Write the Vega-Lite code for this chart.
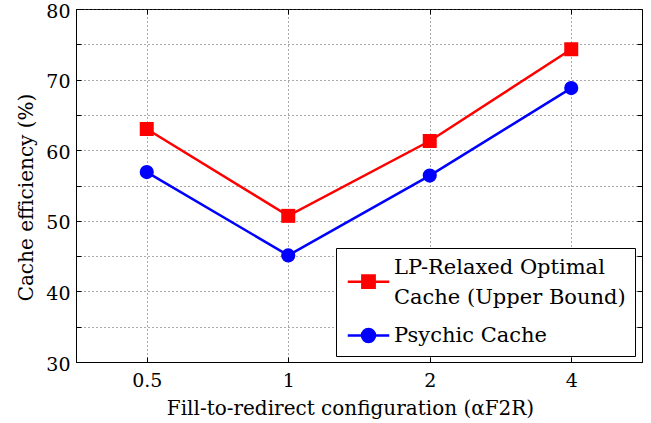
{
  "$schema": "https://vega.github.io/schema/vega-lite/v6.json",
  "width": 566,
  "height": 353,
  "autosize": "none",
  "padding": {"left": 76, "top": 9, "right": 9, "bottom": 61},
  "background": "white",
  "config": {
    "view": {"stroke": "black", "strokeWidth": 1},
    "font": "DejaVu Serif",
    "axis": {
      "domainColor": "black",
      "tickColor": "black",
      "labelColor": "black",
      "titleColor": "black",
      "labelFont": "DejaVu Serif",
      "titleFont": "DejaVu Serif",
      "labelFontSize": 19,
      "titleFontSize": 20,
      "titleFontWeight": "normal",
      "gridColor": "#555555",
      "gridDash": [1, 3],
      "gridOpacity": 1,
      "tickSize": -5,
      "tickWidth": 1
    }
  },
  "data": {
    "values": [
      {"alpha": "0.5", "series": "LP-Relaxed Optimal Cache (Upper Bound)", "eff": 63.0},
      {"alpha": "1", "series": "LP-Relaxed Optimal Cache (Upper Bound)", "eff": 50.7},
      {"alpha": "2", "series": "LP-Relaxed Optimal Cache (Upper Bound)", "eff": 61.3},
      {"alpha": "4", "series": "LP-Relaxed Optimal Cache (Upper Bound)", "eff": 74.3},
      {"alpha": "0.5", "series": "Psychic Cache", "eff": 56.9},
      {"alpha": "1", "series": "Psychic Cache", "eff": 45.1},
      {"alpha": "2", "series": "Psychic Cache", "eff": 56.4},
      {"alpha": "4", "series": "Psychic Cache", "eff": 68.8}
    ]
  },
  "layer": [
    {
      "mark": {"type": "line", "strokeWidth": 2.5},
      "encoding": {
        "x": {
          "field": "alpha", "type": "ordinal", "sort": ["0.5", "1", "2", "4"],
          "scale": {"type": "point", "padding": 0.5},
          "axis": {"orient": "bottom", "grid": true, "labelAngle": 0, "labelPadding": 14, "title": "Fill-to-redirect configuration (αF2R)", "titlePadding": 8, "titleX": 274}
        },
        "y": {
          "field": "eff", "type": "quantitative",
          "scale": {"domain": [30, 80], "nice": false, "zero": false},
          "axis": {"orient": "left", "grid": true, "values": [30, 35, 40, 45, 50, 55, 60, 65, 70, 75, 80], "labelExpr": "datum.value % 10 == 0 ? datum.label : ''", "labelPadding": 11, "labelOffset": 2, "title": "Cache efficiency (%)", "titlePadding": 9, "titleY": 188}
        },
        "color": {
          "field": "series", "type": "nominal",
          "scale": {"range": ["#ff0000", "#0000ff"]},
          "legend": null
        }
      }
    },
    {
      "transform": [{"filter": "datum.series == 'LP-Relaxed Optimal Cache (Upper Bound)'"}],
      "mark": {"type": "point", "filled": true, "opacity": 1, "shape": "square", "size": 196},
      "encoding": {
        "x": {
          "field": "alpha", "type": "ordinal", "sort": ["0.5", "1", "2", "4"],
          "scale": {"type": "point", "padding": 0.5},
          "axis": {"orient": "top", "grid": false, "labels": false, "title": null, "domain": false}
        },
        "y": {
          "field": "eff", "type": "quantitative",
          "scale": {"domain": [30, 80], "nice": false, "zero": false},
          "axis": {"orient": "right", "grid": false, "labels": false, "title": null, "domain": false, "values": [30, 35, 40, 45, 50, 55, 60, 65, 70, 75, 80]}
        },
        "color": {"field": "series", "type": "nominal", "legend": null}
      }
    },
    {
      "transform": [{"filter": "datum.series == 'Psychic Cache'"}],
      "mark": {"type": "point", "filled": true, "opacity": 1, "shape": "circle", "size": 200},
      "encoding": {
        "x": {"field": "alpha", "type": "ordinal", "sort": ["0.5", "1", "2", "4"], "scale": {"type": "point", "padding": 0.5}, "axis": null},
        "y": {"field": "eff", "type": "quantitative", "scale": {"domain": [30, 80], "nice": false, "zero": false}, "axis": null},
        "color": {"field": "series", "type": "nominal", "legend": null}
      }
    },
    {
      "mark": {"type": "point", "filled": true, "size": 180, "strokeWidth": 2.5},
      "encoding": {
        "x": {"field": "alpha", "type": "ordinal", "sort": ["0.5", "1", "2", "4"], "scale": {"type": "point", "padding": 0.5}, "axis": null},
        "y": {"field": "eff", "type": "quantitative", "scale": {"domain": [30, 80], "nice": false, "zero": false}, "axis": null},
        "opacity": {"value": 0},
        "fill": {
          "field": "series", "type": "nominal",
          "scale": {"domain": ["LP-Relaxed Optimal Cache (Upper Bound)", "Psychic Cache"], "range": ["#ff0000", "#0000ff"]},
          "legend": {
            "title": null, "orient": "none", "legendX": 260, "legendY": 239,
            "padding": 9, "strokeColor": "black", "fillColor": "white", "cornerRadius": 0,
            "labelFont": "DejaVu Serif", "labelFontSize": 21, "labelColor": "black", "labelLimit": 400,
            "rowPadding": 16, "symbolOffset": 13, "labelOffset": 15, "symbolStrokeWidth": 2.5, "symbolOpacity": 1,
            "labelExpr": "datum.label == 'LP-Relaxed Optimal Cache (Upper Bound)' ? ['LP-Relaxed Optimal', 'Cache (Upper Bound)'] : datum.label",
            "encode": {"labels": {"update": {"lineHeight": {"value": 30}}}}
          }
        },
        "stroke": {
          "field": "series", "type": "nominal",
          "scale": {"domain": ["LP-Relaxed Optimal Cache (Upper Bound)", "Psychic Cache"], "range": ["#ff0000", "#0000ff"]},
          "legend": {
            "title": null, "orient": "none", "legendX": 260, "legendY": 239,
            "padding": 9, "strokeColor": "black", "fillColor": "white", "cornerRadius": 0,
            "labelFont": "DejaVu Serif", "labelFontSize": 21, "labelColor": "black", "labelLimit": 400,
            "rowPadding": 16, "symbolOffset": 13, "labelOffset": 15, "symbolStrokeWidth": 2.5, "symbolOpacity": 1,
            "labelExpr": "datum.label == 'LP-Relaxed Optimal Cache (Upper Bound)' ? ['LP-Relaxed Optimal', 'Cache (Upper Bound)'] : datum.label",
            "encode": {"labels": {"update": {"lineHeight": {"value": 30}}}}
          }
        },
        "shape": {
          "field": "series", "type": "nominal",
          "scale": {"domain": ["LP-Relaxed Optimal Cache (Upper Bound)", "Psychic Cache"], "range": ["M-4.15,2.83H4.15M-1.23,1.6H1.23V4.06H-1.23Z", "M-4.15,0H4.15M1.3,0A1.3,1.3,0,1,1,-1.3,0A1.3,1.3,0,1,1,1.3,0Z"]},
          "legend": {
            "title": null, "orient": "none", "legendX": 260, "legendY": 239,
            "padding": 9, "strokeColor": "black", "fillColor": "white", "cornerRadius": 0,
            "labelFont": "DejaVu Serif", "labelFontSize": 21, "labelColor": "black", "labelLimit": 400,
            "rowPadding": 16, "symbolOffset": 13, "labelOffset": 15, "symbolStrokeWidth": 2.5, "symbolOpacity": 1,
            "labelExpr": "datum.label == 'LP-Relaxed Optimal Cache (Upper Bound)' ? ['LP-Relaxed Optimal', 'Cache (Upper Bound)'] : datum.label",
            "encode": {"labels": {"update": {"lineHeight": {"value": 30}}}}
          }
        }
      }
    }
  ],
  "resolve": {"axis": {"x": "independent", "y": "independent"}}
}
